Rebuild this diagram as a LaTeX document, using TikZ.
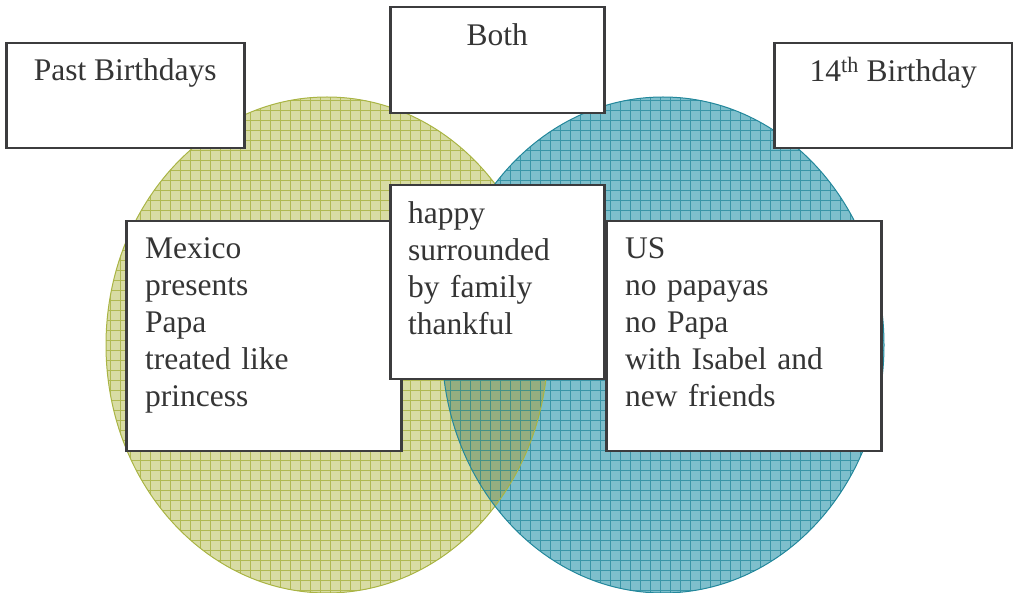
\documentclass[tikz,border=0pt]{standalone}
\usepackage{fontspec}
\setmainfont{Liberation Serif}
\usetikzlibrary{positioning}

\definecolor{olivefill}{HTML}{D8DCA4}
\definecolor{oliveline}{HTML}{A9B444}
\definecolor{tealfill}{HTML}{7EBFCC}
\definecolor{tealline}{HTML}{23879B}
\definecolor{bothfill}{HTML}{95AE80}
\definecolor{boxline}{HTML}{3C3C3E}
\definecolor{inktext}{HTML}{353535}

\tikzset{
  box/.style={draw=boxline, line width=2.5pt, fill=white, inner sep=0pt, anchor=north west},
  words/.style={inner sep=0pt, anchor=base west, text width=250pt, align=left,
    font=\fontsize{31.5}{37}\selectfont, text=inktext},
  title/.style={inner sep=0pt, anchor=base, font=\fontsize{31.5}{37}\selectfont, text=inktext},
  ring/.style={x radius=221, y radius=248}
}

\begin{document}
\begin{tikzpicture}[x=1pt,y=-1pt]
\useasboundingbox (0,0) rectangle (1013,593);

% the two circles
\fill[olivefill] (327,345) ellipse [ring];
\fill[tealfill] (663,345) ellipse [ring];
\begin{scope}
  \clip (327,345) ellipse [ring];
  \fill[bothfill] (663,345) ellipse [ring];
\end{scope}

% grid texture
\begin{scope}
  \clip (327,345) ellipse [ring];
  \draw[oliveline, line width=0.55pt, step=10pt, opacity=0.85] (100,90) grid (560,600);
\end{scope}
\begin{scope}
  \clip (663,345) ellipse [ring];
  \draw[tealline, line width=0.55pt, step=10pt, opacity=0.75] (430,90) grid (890,600);
\end{scope}
\draw[oliveline, line width=1pt] (327,345) ellipse [ring];
\draw[tealline, line width=1pt] (663,345) ellipse [ring];

% headings
\node[box, minimum width=238pt, minimum height=105pt] (pastbox) at (5,42) {};
\node[box, minimum width=214pt, minimum height=106pt] (bothbox) at (389,6) {};
\node[box, minimum width=238pt, minimum height=105pt] (nowbox) at (773,42) {};
\node[title] (pasttitle) at ([shift={(0,39)}]pastbox.north) {Past Birthdays};
\node[title] (bothtitle) at ([shift={(0,40)}]bothbox.north) {Both};
\node[title] (nowtitle) at ([shift={(0,40)}]nowbox.north) {14\textsuperscript{th} Birthday};

% lists
\node[box, minimum width=275pt, minimum height=230pt] (pastlist) at (125,220) {};
\node[box, minimum width=275pt, minimum height=230pt] (nowlist) at (605,220) {};
\node[box, minimum width=214pt, minimum height=194pt] (bothlist) at (389,184) {};

\node[words] (pastwords) at ([shift={(20,39)}]pastlist.north west)
  {Mexico\\presents\\Papa\\treated like\\princess};
\node[words] (bothwords) at ([shift={(19,40)}]bothlist.north west)
  {happy\\surrounded\\by family\\thankful};
\node[words] (nowwords) at ([shift={(20,39)}]nowlist.north west)
  {US\\no papayas\\no Papa\\with Isabel and\\new friends};
\end{tikzpicture}
\end{document}
